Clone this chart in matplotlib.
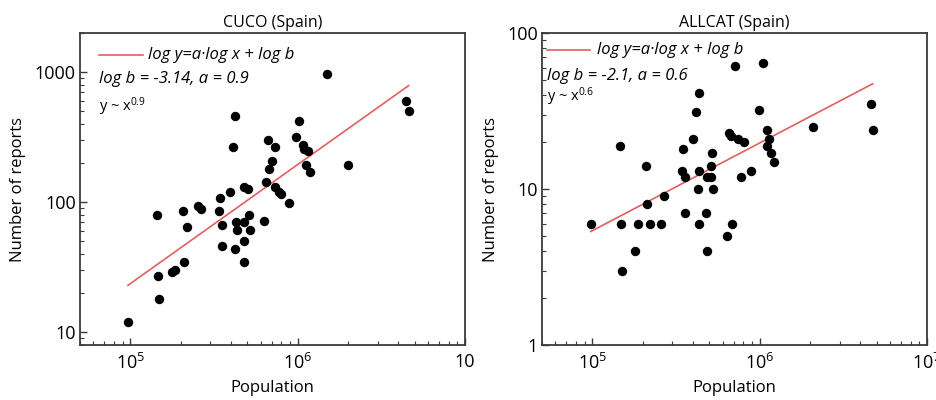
import numpy as np
import matplotlib
matplotlib.use("Agg")
import matplotlib.pyplot as plt
from matplotlib.ticker import LogLocator, FixedLocator, FixedFormatter, NullFormatter

plt.rcParams['font.family'] = ['Open Sans', 'DejaVu Sans']
plt.rcParams['mathtext.fontset'] = 'custom'
plt.rcParams['mathtext.rm'] = 'Open Sans'
plt.rcParams['mathtext.it'] = 'Open Sans:italic'
plt.rcParams['mathtext.default'] = 'regular'

# ---- data ----
cuco_pop = [1490000, 4420000, 4600000, 421000, 1014000, 409000, 662000, 730000, 973000, 1070000,
            1090000, 1150000, 2010000, 700000, 1120000, 1180000, 671000, 644000, 476000, 502000,
            393000, 730000, 771000, 793000, 342000, 883000, 144000, 206000, 253000, 264000,
            337000, 352000, 217000, 427000, 476000, 510000, 433000, 517000, 627000, 476000,
            352000, 421000, 476000, 208000, 177000, 184000, 146000, 148000, 96700]
cuco_reports = [960, 596, 499, 464, 425, 268, 303, 264, 315, 278,
                259, 250, 192, 209, 192, 172, 179, 144, 132, 127,
                119, 132, 121, 115, 107, 99, 80, 86, 93, 89,
                85, 67, 65, 71, 70, 80, 61, 61, 72, 50,
                46, 44, 35, 35, 29, 30, 27, 18, 12]

allcat_pop = [714000, 1040000, 434000, 417000, 995000, 4610000, 4740000, 2070000, 1100000, 1140000,
              1110000, 1170000, 1210000, 146000, 209000, 348000, 400000, 657000, 676000, 744000,
              809000, 520000, 343000, 358000, 434000, 513000, 485000, 513000, 776000, 891000,
              428000, 527000, 268000, 212000, 97700, 148000, 187000, 221000, 257000, 358000,
              479000, 434000, 685000, 640000, 179000, 485000, 150000]
allcat_reports = [61, 64, 41, 31, 32, 35, 24, 25, 24, 21,
                  19, 17, 15, 19, 14, 18, 21, 23, 22, 21,
                  20, 17, 13, 12, 13, 14, 12, 12, 12, 13,
                  10, 10, 9, 8, 6, 6, 6, 6, 6, 7,
                  7, 6, 6, 5, 4, 4, 3]

# fitted lines as drawn (log y = a log x + log b)
cuco_fit = {"a": 0.915, "logb": -3.20}
allcat_fit = {"a": 0.562, "logb": -2.077}

titles = ["CUCO (Spain)", "ALLCAT (Spain)"]
legend_eq = "log y=a\u00b7log x + log b"
param_texts = ["log b = -3.14, a = 0.9", "log b = -2.1, a = 0.6"]
power_texts = ["y ~ x$^{0.9}$", "y ~ x$^{0.6}$"]
x_ticks = [1e5, 1e6, 1e7]
x_ticklabels = [["10$^{5}$", "10$^{6}$", "10"], ["10$^{5}$", "10$^{6}$", "10$^{7}$"]]
y_ticks = [[10, 100, 1000], [1, 10, 100]]
y_ticklabels = [["10", "100", "1000"], ["1", "10", "100"]]
y_lims = [(8, 2000), (1, 100)]
x_lim = (5e4, 1e7)

red = '#e06060'
frame = '#3a3a3a'

fig = plt.figure(figsize=(9.37, 4.0), dpi=100)
W, H = 937, 400
ax_boxes = [(80, 33, 465, 345), (542, 33, 927, 345)]
axes = []
for (l, t, r, b) in ax_boxes:
    axes.append(fig.add_axes([l / W, 1 - b / H, (r - l) / W, (b - t) / H]))

data = [(cuco_pop, cuco_reports, cuco_fit), (allcat_pop, allcat_reports, allcat_fit)]
leg_pos = [
    dict(line=(0.049, 0.164), ly=0.929, tx=0.177, p2=(0.049, 0.853), p3=(0.049, 0.763)),
    dict(line=(0.013, 0.125), ly=0.946, tx=0.143, p2=(0.013, 0.862), p3=(0.013, 0.795)),
]

for i, ax in enumerate(axes):
    xs, ys, fit = data[i]
    ax.set_xscale('log')
    ax.set_yscale('log')
    ax.scatter(xs, ys, s=46, color='black', zorder=3, linewidths=0)
    xf = np.array([min(xs), max(xs)])
    yf = 10 ** (fit["a"] * np.log10(xf) + fit["logb"])
    ax.plot(xf, yf, color=red, lw=1.2, zorder=2)
    ax.set_xlim(*x_lim)
    ax.set_ylim(*y_lims[i])

    ax.xaxis.set_major_locator(FixedLocator(x_ticks))
    ax.xaxis.set_major_formatter(FixedFormatter(x_ticklabels[i]))
    ax.xaxis.set_minor_locator(LogLocator(base=10, subs=np.arange(2, 10)))
    ax.xaxis.set_minor_formatter(NullFormatter())
    ax.yaxis.set_major_locator(FixedLocator(y_ticks[i]))
    ax.yaxis.set_major_formatter(FixedFormatter(y_ticklabels[i]))
    ax.yaxis.set_minor_locator(LogLocator(base=10, subs=np.arange(2, 10)))
    ax.yaxis.set_minor_formatter(NullFormatter())

    ax.tick_params(which='both', direction='in', top=False, right=False, color=frame)
    ax.tick_params(which='major', length=5, width=1.0, labelsize=13, pad=3)
    ax.tick_params(axis='x', which='major', pad=6)
    ax.tick_params(which='minor', length=3, width=0.8)
    for sp in ax.spines.values():
        sp.set_color(frame)
        sp.set_linewidth(1.3)

    ax.set_title(titles[i], fontsize=11.5, pad=4)
    ax.set_xlabel("Population", fontsize=12, labelpad=5)
    ax.set_ylabel("Number of reports", fontsize=12, labelpad=6)

    lp = leg_pos[i]
    ax.plot(lp["line"], [lp["ly"], lp["ly"]], color=red, lw=1.2, transform=ax.transAxes)
    ax.text(lp["tx"], lp["ly"], legend_eq, transform=ax.transAxes, fontsize=12,
            style='italic', va='center', ha='left')
    ax.text(lp["p2"][0], lp["p2"][1], param_texts[i], transform=ax.transAxes, fontsize=12,
            style='italic', va='center', ha='left')
    ax.text(lp["p3"][0], lp["p3"][1], power_texts[i], transform=ax.transAxes, fontsize=10.5,
            va='center', ha='left')

fig.savefig("out.png", dpi=100)
